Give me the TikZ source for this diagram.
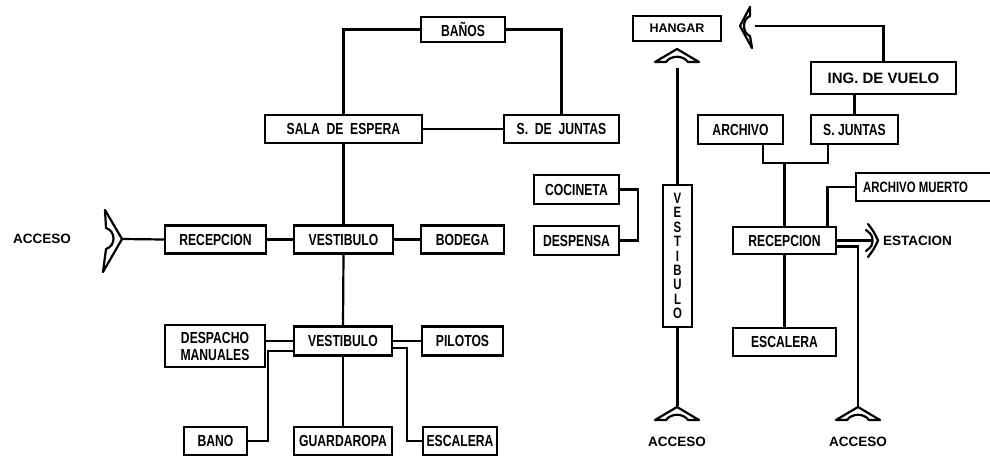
\documentclass[tikz,border=0pt]{standalone}
\usepackage{fontspec}
\setmainfont{Liberation Sans}
\newfontfamily\cond{Liberation Sans}[FakeStretch=0.76, BoldFeatures={FakeStretch=0.76}]
\tikzset{
 box/.style={draw, line width=2.2pt, inner sep=0pt, font=\cond\bfseries\fontsize{16}{17}\selectfont},
 ln/.style={line width=2.2pt},
 sym/.style={line width=2.2pt, line join=round, line cap=round},
 lbl/.style={font=\bfseries\fontsize{13.5}{15}\selectfont, inner sep=0pt},
 accup/.pic={\draw[sym] (-22,13) -- (0,0) -- (22,13) -- (11,13) .. controls (6,6) and (-6,6) .. (-11,13) -- cycle;}
}
\begin{document}
\begin{tikzpicture}[x=1pt,y=-1pt]
\useasboundingbox[fill=white] (0,0) rectangle (990,458);
% left building
\node[box,minimum width=101pt,minimum height=28pt] (recL) at (215.5,239.5) {RECEPCION};
\node[box,minimum width=99pt,minimum height=28pt] (vestA) at (343.5,239.5) {VESTIBULO};
\node[box,minimum width=83pt,minimum height=28pt] (bodega) at (462.5,239.5) {BODEGA};
\node[box,minimum width=157pt,minimum height=28pt] (sala) at (343.5,129) {SALA\ \ DE\ \ ESPERA};
\node[box,minimum width=84pt,minimum height=25pt] (banos) at (463,29.5) {BAÑOS};
\node[box,minimum width=115pt,minimum height=28pt] (sdj) at (561.5,129) {S.\ \ DE\ \ JUNTAS};
\node[box,minimum width=100pt,minimum height=42pt,align=center] (desp) at (215,346) {DESPACHO\\MANUALES};
\node[box,minimum width=98pt,minimum height=29pt] (vestB) at (343,341) {VESTIBULO};
\node[box,minimum width=81pt,minimum height=29pt] (pil) at (462.5,341) {PILOTOS};
\node[box,minimum width=63pt,minimum height=28pt] (bano) at (215.5,441) {BANO};
\node[box,minimum width=98pt,minimum height=28pt] (guard) at (343,441) {GUARDAROPA};
\node[box,minimum width=74pt,minimum height=28pt] (escL) at (460,441) {ESCALERA};
% middle
\node[box,minimum width=88pt,minimum height=25pt,font=\bfseries\fontsize{12.5}{14}\selectfont] (hangar) at (677,28.5) {HANGAR};
\node[box,minimum width=29pt,minimum height=142pt,align=center,font=\cond\bfseries\fontsize{15}{14.4}\selectfont] (vestV) at (677.5,256) {V\\E\\S\\T\\I\\B\\U\\L\\O};
\node[box,minimum width=85pt,minimum height=29pt] (coc) at (576.5,189.5) {COCINETA};
\node[box,minimum width=85pt,minimum height=29pt] (desn) at (576.5,240.5) {DESPENSA};
% right
\node[box,minimum width=145pt,minimum height=32pt,font=\bfseries\fontsize{15}{17}\selectfont] (ing) at (883.5,78) {ING.\ DE\ VUELO};
\node[box,minimum width=87pt,minimum height=29pt] (sjun) at (854.5,129.5) {S. JUNTAS};
\node[box,minimum width=85pt,minimum height=29pt] (arch) at (740.5,129.5) {ARCHIVO};
\node[box,minimum width=150pt,minimum height=28pt,anchor=west,font=\cond\bfseries\fontsize{15}{16}\selectfont] (archM) at (855,187) {\makebox[136pt][l]{ARCHIVO MUERTO}};
\node[box,minimum width=103pt,minimum height=27pt] (recR) at (784.5,240.5) {RECEPCION};
\node[box,minimum width=103pt,minimum height=28pt] (escR) at (784.5,342) {ESCALERA};
% labels
\node[lbl] (accLt) at (42,239) {ACCESO};
\node[lbl,anchor=west] (est) at (883,241) {ESTACION};
\node[lbl] (accB1t) at (677,442) {ACCESO};
\node[lbl] (accB2t) at (858,442) {ACCESO};
% access symbols
\coordinate (accL) at (122,239);
\draw[sym] (105,210) -- (accL) -- (103,272);
\draw[sym] (105,210) -- (106,228) .. controls (116,231) and (116,246) .. (106,249) -- (103,272);
\draw[sym] (750,7) -- (740,26) -- (752,48);
\draw[sym] (750,7) -- (750,16) .. controls (742,19) and (742,33) .. (750,36) -- (752,48);
\draw[sym] (868,224) .. controls (874,232) .. (878,240.5) .. controls (874,249) .. (868,257);
\draw[sym] (866,230) .. controls (872,235) .. (872.5,240.5) .. controls (872,246) .. (866,251);
\pic at (677,49) {accup};
\pic at (677,407) {accup};
\pic at (858,407) {accup};
% connectors left
\draw[ln] (accL) -- (recL.west);
\draw[ln] (recL.east) -- (vestA.west);
\draw[ln] (vestA.east) -- (bodega.west);
\draw[ln] (sala.south) -- (vestA.north);
\draw[ln] (vestA.south) -- (vestB.north);
\draw[ln] (sala.east) -- (sdj.west);
\draw[ln] (banos.west) -| (sala.north);
\draw[ln] (banos.east) -| (sdj.north);
\draw[ln] (vestB.west) -- (vestB.west -| desp.east);
\draw[ln] (vestB.east) -- (pil.west);
\draw[ln] ([yshift=-7pt]vestB.east) -- ++(14,0) |- (escL.west);
\draw[ln] ([yshift=-10pt]vestB.west) -- ++(-25,0) |- (bano.east);
\draw[ln] (vestB.south) -- (guard.north);
% connectors middle
\coordinate (hgEnd) at (677.5,68);
\draw[ln] (vestV.north) -- (hgEnd);
\coordinate (ab1) at (677.5,406);
\draw[ln] (vestV.south) -- (ab1);
\draw[ln] (coc.east) -- ++(18,0) |- (desn.east);
% connectors right
\coordinate (trEnd) at (755,26);
\draw[ln] (trEnd) -| (ing.north);
\draw[ln] (sjun.north |- ing.south) -- (sjun.north);
\coordinate (jn) at (784.5,163);
\draw[ln] ([xshift=22.5pt]arch.south) |- (jn) -| ([xshift=-26.5pt]sjun.south);
\draw[ln] (jn) -- (recR.north);
\draw[ln] (archM.west) -| ([xshift=43pt]recR.north);
\draw[ln] (recR.south) -- (escR.north);
\coordinate (estTip) at (872,240.5);
\draw[ln] (recR.east) -- (estTip);
\coordinate (ab2) at (858,406);
\draw[ln] ([yshift=-6pt]recR.east) -| (ab2);
\end{tikzpicture}
\end{document}
